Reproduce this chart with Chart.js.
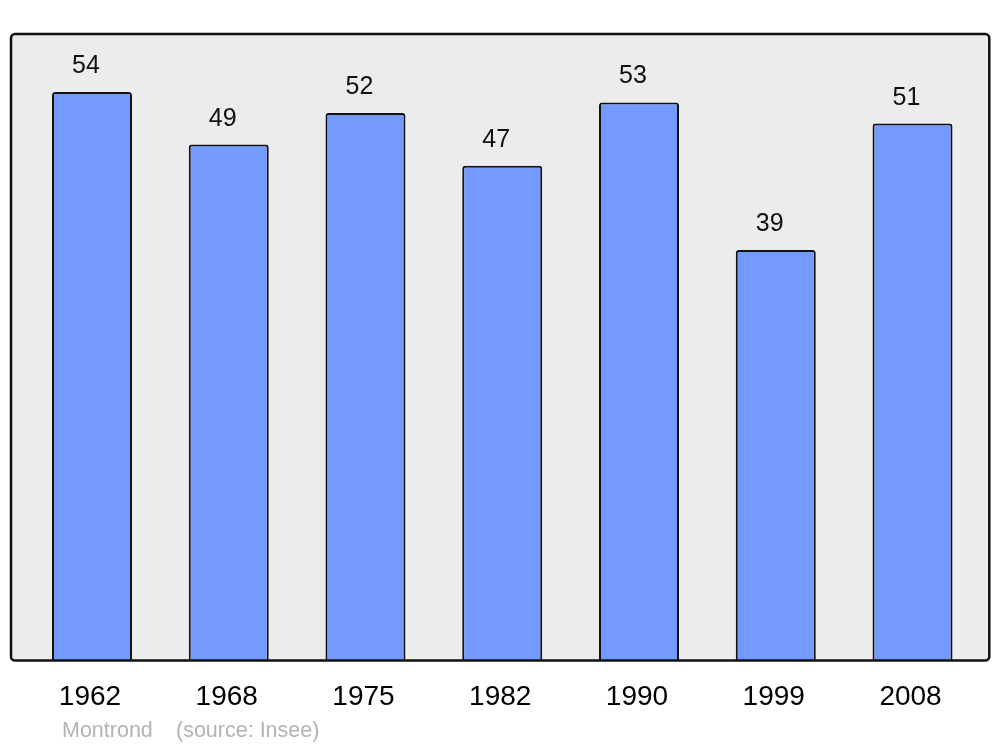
<!DOCTYPE html>
<html><head><meta charset="utf-8">
<script src="https://cdn.jsdelivr.net/npm/chart.js@4/dist/chart.umd.min.js"></script>
<style>html,body{margin:0;padding:0;background:#fff}#wrap{width:1000px;height:747px}</style>
</head><body><div id="wrap"><canvas id="c" width="1000" height="747"></canvas></div>
<script>
const years = ["1962","1968","1975","1982","1990","1999","2008"];
const population = [54,49,52,47,53,39,51];
const footerPlace = "Montrond";
const footerSource = "(source: Insee)";

const boxPlugin = {
  id:'box',
  beforeDatasetsDraw(chart){
    const a = chart.chartArea, ctx = chart.ctx;
    const l = a.left-12.6, r = a.right+8.4, t = a.top, b = a.bottom;
    ctx.save();
    ctx.beginPath();
    ctx.roundRect(l, t, r-l, b-t, 4);
    ctx.fillStyle = '#ececec';
    ctx.fill();
    ctx.restore();
  },
  afterDatasetsDraw(chart){
    const a = chart.chartArea, ctx = chart.ctx;
    const l = a.left-12.6, r = a.right+8.4, t = a.top, b = a.bottom;
    ctx.save();
    ctx.beginPath();
    ctx.roundRect(l, t, r-l, b-t, 4);
    ctx.lineWidth = 2.5;
    ctx.strokeStyle = '#111';
    ctx.stroke();
    // value labels
    const meta = chart.getDatasetMeta(0);
    ctx.fillStyle = '#111';
    ctx.font = '25px "Liberation Sans", Arial, sans-serif';
    ctx.textAlign = 'center';
    ctx.textBaseline = 'alphabetic';
    meta.data.forEach((bar,i)=>{
      ctx.fillText(String(population[i]), bar.x-6, bar.y-19);
    });
    // footer
    ctx.fillStyle = '#b3b3b3';
    ctx.font = '21.5px "Liberation Sans", Arial, sans-serif';
    ctx.textAlign = 'left';
    ctx.fillText(footerPlace, l+51, 737);
    ctx.fillText(footerSource, l+165, 737);
    ctx.restore();
  }
};

new Chart(document.getElementById('c'), {
  type:'bar',
  data:{labels:years, datasets:[{
    data:population,
    backgroundColor:'#7499ff',
    borderColor:'#111',
    borderWidth:2,
    borderRadius:3,
    borderSkipped:'start',
    barPercentage:0.585,
    categoryPercentage:1
  }]},
  options:{
    responsive:false,
    animation:false,
    layout:{padding:{left:23.6,right:19.1,top:34,bottom:12.8}},
    plugins:{legend:{display:false},tooltip:{enabled:false},title:{display:false}},
    scales:{
      y:{display:false,min:0,max:59.5},
      x:{
        grid:{display:false,drawTicks:false},
        border:{display:false},
        ticks:{color:'#000',padding:20,labelOffset:-2,font:{family:'"Liberation Sans", Arial, sans-serif',size:28}}
      }
    }
  },
  plugins:[boxPlugin]
});
</script></body></html>
